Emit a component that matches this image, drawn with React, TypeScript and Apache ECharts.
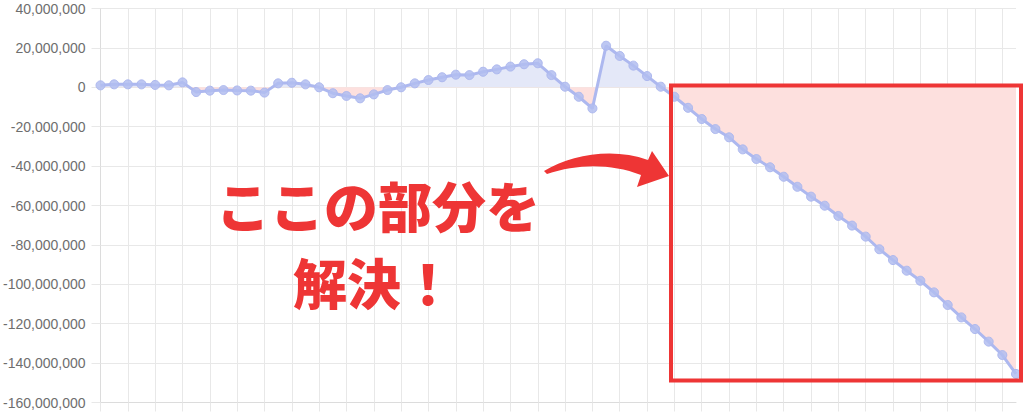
import React, { useEffect, useRef } from "react";
import * as echarts from "echarts";

const categories: string[] = [
  "1", "2", "3", "4", "5", "6", "7", "8", "9", "10",
  "11", "12", "13", "14", "15", "16", "17", "18", "19", "20",
  "21", "22", "23", "24", "25", "26", "27", "28", "29", "30",
  "31", "32", "33", "34", "35", "36", "37", "38", "39", "40",
  "41", "42", "43", "44", "45", "46", "47", "48", "49", "50",
  "51", "52", "53", "54", "55", "56", "57", "58", "59", "60",
  "61", "62", "63", "64", "65", "66", "67", "68",
];

const balance: number[] = [
  1000000, 1500000, 1500000, 1500000, 1200000, 1000000, 2500000, -2400000, -1700000, -1400000,
  -1600000, -1700000, -2700000, 2000000, 2300000, 1500000, 0, -3000000, -4400000, -5600000,
  -3600000, -1400000, 0, 2000000, 3700000, 5100000, 6400000, 6200000, 7900000, 9100000,
  10500000, 11700000, 12200000, 6200000, 300000, -4800000, -10700000, 21100000, 15900000, 11000000,
  5700000, 300000, -4800000, -10400000, -16100000, -21200000, -25400000, -31500000, -36400000, -40600000,
  -45400000, -50500000, -55500000, -60100000, -65300000, -70200000, -75800000, -82200000, -87700000, -93100000,
  -98200000, -104100000, -110500000, -116800000, -122700000, -129100000, -135900000, -145500000,
];

const yMin = -160000000;
const yMax = 40000000;
const yStep = 20000000;

const noteLines: string[] = ["ここの部分を", "解決！"];

const ARROW_D =
  "M544 171 C571 155 612 147 648 160 L652 151 L669 176 L637 187 L641 175 C610 163 577 164 547 174 Z";

let registered = false;
function ensureShapes() {
  if (registered) return;
  registered = true;
  echarts.graphic.registerShape("noteArrow", echarts.graphic.extendPath(ARROW_D, {}));
}

const ABOVE = "#e4e8f8";
const BELOW = "#fde0de";

export default function App() {
  const ref = useRef<HTMLDivElement>(null);

  useEffect(() => {
    if (!ref.current) return;
    ensureShapes();
    const chart = echarts.init(ref.current, undefined, { renderer: "svg" });
    const red = "#ee3535";
    const grid = "#e8e8e8";
    const noteFont = "900 54px 'Noto Sans CJK JP', sans-serif";
    chart.setOption({
      animation: false,
      grid: { left: 97, right: 8, top: 8.5, bottom: 16.5, containLabel: false },
      xAxis: {
        type: "category",
        data: categories,
        boundaryGap: false,
        axisLine: { show: true, onZero: false, lineStyle: { color: "#dcdcdc", width: 1 } },
        axisTick: { show: true, interval: 1, length: 9, lineStyle: { color: grid } },
        axisLabel: { show: false },
        splitLine: { show: true, interval: 1, lineStyle: { color: grid, width: 1 } },
      },
      yAxis: {
        type: "value",
        min: yMin,
        max: yMax,
        interval: yStep,
        axisLine: { show: true, lineStyle: { color: "#dcdcdc" } },
        axisTick: { show: true, length: 9, lineStyle: { color: grid } },
        axisLabel: {
          margin: 15,
          color: "#6e6e6e",
          fontSize: 14,
          fontFamily: "'Liberation Sans', Arial, sans-serif",
          formatter: (v: number) => v.toLocaleString("en-US"),
        },
        splitLine: { show: true, lineStyle: { color: grid, width: 1 } },
      },
      series: [
        {
          type: "line",
          data: balance,
          symbol: "none",
          silent: true,
          lineStyle: { width: 0, opacity: 0 },
          areaStyle: { opacity: 1, color: BELOW },
          z: 1,
        },
        {
          type: "line",
          data: balance,
          symbol: "circle",
          symbolSize: 9,
          showAllSymbol: true,
          lineStyle: { color: "#adb8ef", width: 3 },
          itemStyle: { color: "rgba(178,189,240,0.85)", borderColor: "#adb8ef", borderWidth: 1 },
          z: 3,
        },
      ],
      graphic: [
        {
          type: "rect",
          z: 100,
          shape: { x: 671, y: 85.5, width: 350, height: 295 },
          style: { fill: "none", stroke: red, lineWidth: 4 },
        },
        {
          type: "noteArrow",
          z: 100,
          x: 0,
          y: 0,
          style: { fill: red, stroke: "none" },
        },
        {
          type: "text",
          z: 100,
          x: 378,
          y: 204,
          style: {
            text: noteLines[0],
            fill: red,
            font: noteFont,
            textAlign: "center",
            textVerticalAlign: "middle",
          },
        },
        {
          type: "text",
          z: 100,
          x: 374,
          y: 281,
          style: {
            text: noteLines[1],
            fill: red,
            font: noteFont,
            textAlign: "center",
            textVerticalAlign: "middle",
          },
        },
      ],
    });

    const pt = chart.convertToPixel({ gridIndex: 0 }, [0, 0]) as number[];
    const zeroY = pt && typeof pt[1] === "number" ? pt[1] : 87;
    chart.setOption({
      series: [
        {
          areaStyle: {
            opacity: 1,
            color: new echarts.graphic.LinearGradient(
              0, zeroY - 1, 0, zeroY + 1,
              [
                { offset: 0, color: ABOVE },
                { offset: 0.5, color: ABOVE },
                { offset: 0.5, color: BELOW },
                { offset: 1, color: BELOW },
              ],
              true
            ),
          },
        },
        {},
      ],
    });
    return () => chart.dispose();
  }, []);

  return (
    <div
      ref={ref}
      style={{ position: "absolute", left: 0, top: 0, width: 1024, height: 419, background: "#fff" }}
    />
  );
}
